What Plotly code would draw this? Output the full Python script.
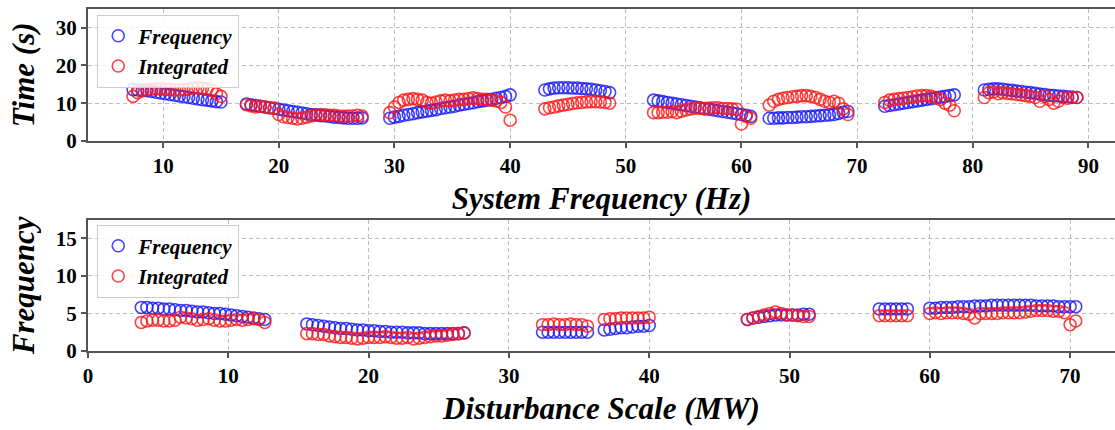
import plotly.graph_objects as go

# ---------------- Top panel: System Frequency (Hz) vs Time (s) ----------------
top_x = [
    [7.4, 7.8, 8.2, 8.6, 9.0, 9.4, 9.8, 10.2, 10.6, 11.0, 11.4, 11.8, 12.2, 12.6, 13.0, 13.4, 13.8, 14.2, 14.6, 15.0],
    [17.2, 17.6, 18.0, 18.4, 18.8, 19.2, 19.6, 20.0, 20.4, 20.8, 21.2, 21.6, 22.0, 22.4, 22.8, 23.2, 23.6, 24.0, 24.4, 24.8, 25.2, 25.6, 26.0, 26.4, 26.8, 27.2],
    [29.6, 30.0, 30.4, 30.8, 31.2, 31.6, 32.0, 32.4, 32.8, 33.2, 33.6, 34.0, 34.4, 34.8, 35.2, 35.6, 36.0, 36.4, 36.8, 37.2, 37.6, 38.0, 38.4, 38.8, 39.2, 39.6, 40.0],
    [43.0, 43.4, 43.8, 44.2, 44.6, 45.0, 45.4, 45.8, 46.2, 46.6, 47.0, 47.4, 47.8, 48.2, 48.6],
    [52.4, 52.8, 53.2, 53.6, 54.0, 54.4, 54.8, 55.2, 55.6, 56.0, 56.4, 56.8, 57.2, 57.6, 58.0, 58.4, 58.8, 59.2, 59.6, 60.0, 60.4, 60.8],
    [62.4, 62.8, 63.2, 63.6, 64.0, 64.4, 64.8, 65.2, 65.6, 66.0, 66.4, 66.8, 67.2, 67.6, 68.0, 68.4, 68.8, 69.2],
    [72.4, 72.8, 73.2, 73.6, 74.0, 74.4, 74.8, 75.2, 75.6, 76.0, 76.4, 76.8, 77.2, 77.6, 78.0, 78.4],
    [81.0, 81.4, 81.8, 82.2, 82.6, 83.0, 83.4, 83.8, 84.2, 84.6, 85.0, 85.4, 85.8, 86.2, 86.6, 87.0, 87.4, 87.8, 88.2, 88.6, 89.0],
]
top_freq = [
    [13.6, 13.5, 13.4, 13.3, 13.1, 12.9, 12.7, 12.5, 12.3, 12.1, 11.9, 11.7, 11.5, 11.3, 11.1, 10.9, 10.8, 10.6, 10.4, 10.3],
    [9.8, 9.6, 9.4, 9.2, 9.0, 8.8, 8.6, 8.4, 8.2, 8.0, 7.8, 7.6, 7.4, 7.2, 7.0, 6.9, 6.7, 6.6, 6.5, 6.3, 6.2, 6.1, 6.0, 6.0, 6.0, 6.1],
    [6.0, 6.3, 6.5, 6.8, 7.0, 7.2, 7.5, 7.7, 7.9, 8.1, 8.3, 8.6, 8.8, 9.0, 9.2, 9.5, 9.7, 9.9, 10.1, 10.4, 10.6, 10.8, 11.0, 11.3, 11.5, 11.8, 12.2],
    [13.5, 13.8, 14.0, 14.1, 14.1, 14.1, 14.0, 14.0, 13.9, 13.8, 13.7, 13.5, 13.3, 13.1, 12.8],
    [10.8, 10.6, 10.4, 10.2, 10.0, 9.8, 9.6, 9.4, 9.2, 9.0, 8.8, 8.6, 8.4, 8.2, 8.0, 7.8, 7.6, 7.4, 7.2, 7.0, 6.8, 6.5],
    [6.0, 6.0, 6.1, 6.1, 6.2, 6.2, 6.3, 6.4, 6.4, 6.5, 6.6, 6.7, 6.8, 6.9, 7.0, 7.3, 7.6, 7.8],
    [9.2, 9.4, 9.6, 9.8, 10.0, 10.2, 10.4, 10.6, 10.8, 11.0, 11.2, 11.4, 11.6, 11.8, 12.0, 12.2],
    [13.5, 13.7, 13.8, 13.8, 13.7, 13.5, 13.4, 13.2, 13.1, 12.9, 12.8, 12.6, 12.4, 12.3, 12.1, 12.0, 11.9, 11.8, 11.7, 11.6, 11.5],
]
top_integ = [
    [11.8, 12.8, 13.3, 13.6, 13.7, 13.8, 13.8, 13.7, 13.6, 13.5, 13.5, 13.6, 13.8, 14.0, 14.1, 14.0, 13.8, 13.4, 12.5, 11.8],
    [9.6, 9.3, 9.0, 9.2, 9.0, 8.8, 8.7, 7.0, 6.4, 6.2, 6.0, 5.8, 6.0, 6.3, 6.6, 6.8, 7.0, 6.9, 6.8, 6.8, 6.6, 6.5, 6.6, 6.6, 6.8, 6.6],
    [7.5, 9.0, 10.2, 10.8, 11.0, 11.2, 11.0, 10.8, 10.2, 10.0, 10.3, 10.6, 10.8, 10.6, 10.8, 11.0, 11.0, 11.2, 11.4, 11.2, 11.0, 11.0, 10.8, 10.6, 10.2, 9.0, 5.5],
    [8.5, 8.8, 9.0, 9.3, 9.5, 9.7, 9.9, 10.1, 10.2, 10.3, 10.4, 10.4, 10.3, 10.2, 10.0],
    [7.5, 7.5, 7.6, 7.6, 7.8, 7.5, 7.9, 8.2, 8.5, 8.7, 8.7, 8.5, 8.7, 8.8, 8.8, 8.6, 8.6, 8.5, 8.4, 4.5, 6.5, 6.0],
    [9.5, 10.5, 11.0, 11.3, 11.5, 11.7, 11.8, 12.0, 12.0, 11.8, 11.5, 11.0, 10.5, 10.2, 10.5, 10.0, 8.5, 7.0],
    [10.2, 10.8, 11.0, 11.2, 11.3, 11.5, 11.7, 11.9, 12.0, 12.0, 11.8, 11.5, 11.0, 10.0, 9.5, 8.0],
    [11.5, 12.8, 13.0, 12.5, 12.8, 12.6, 12.5, 12.3, 12.2, 12.0, 11.8, 11.5, 10.5, 11.8, 11.0, 10.0, 10.5, 11.5, 11.3, 11.5, 11.5],
]

# ---------------- Bottom panel: Disturbance Scale (MW) vs Frequency ----------------
bot_x = [
    [3.8, 4.2, 4.6, 5.0, 5.4, 5.8, 6.2, 6.6, 7.0, 7.4, 7.8, 8.2, 8.6, 9.0, 9.4, 9.8, 10.2, 10.6, 11.0, 11.4, 11.8, 12.2, 12.6],
    [15.6, 16.0, 16.4, 16.8, 17.2, 17.6, 18.0, 18.4, 18.8, 19.2, 19.6, 20.0, 20.4, 20.8, 21.2, 21.6, 22.0, 22.4, 22.8, 23.2, 23.6, 24.0, 24.4, 24.8, 25.2, 25.6, 26.0, 26.4, 26.8],
    [32.4, 32.8, 33.2, 33.6, 34.0, 34.4, 34.8, 35.2, 35.6],
    [36.8, 37.2, 37.6, 38.0, 38.4, 38.8, 39.2, 39.6, 40.0],
    [47.0, 47.4, 47.8, 48.2, 48.6, 49.0, 49.4, 49.8, 50.2, 50.6, 51.0, 51.4],
    [56.4, 56.8, 57.2, 57.6, 58.0, 58.4],
    [60.0, 60.4, 60.8, 61.2, 61.6, 62.0, 62.4, 62.8, 63.2, 63.6, 64.0, 64.4, 64.8, 65.2, 65.6, 66.0, 66.4, 66.8, 67.2, 67.6, 68.0, 68.4, 68.8, 69.2, 69.6, 70.0, 70.4],
]
bot_freq = [
    [5.8, 5.8, 5.7, 5.7, 5.6, 5.6, 5.5, 5.4, 5.4, 5.3, 5.2, 5.2, 5.1, 5.0, 5.0, 4.9, 4.8, 4.7, 4.6, 4.5, 4.4, 4.3, 4.2],
    [3.6, 3.5, 3.4, 3.3, 3.2, 3.1, 3.0, 3.0, 2.9, 2.8, 2.8, 2.7, 2.7, 2.6, 2.6, 2.5, 2.5, 2.5, 2.4, 2.4, 2.4, 2.3, 2.3, 2.3, 2.3, 2.3, 2.3, 2.3, 2.4],
    [2.5, 2.5, 2.5, 2.5, 2.5, 2.5, 2.5, 2.5, 2.5],
    [2.8, 2.9, 3.0, 3.1, 3.1, 3.2, 3.3, 3.3, 3.4],
    [4.2, 4.4, 4.5, 4.6, 4.7, 4.8, 4.8, 4.8, 4.8, 4.8, 4.9, 4.9],
    [5.6, 5.6, 5.6, 5.6, 5.6, 5.6],
    [5.7, 5.7, 5.8, 5.8, 5.8, 5.9, 5.9, 5.9, 6.0, 6.0, 6.0, 6.1, 6.1, 6.1, 6.1, 6.1, 6.1, 6.1, 6.1, 6.0, 6.0, 6.0, 6.0, 5.9, 5.9, 5.9, 5.9],
]
bot_integ = [
    [3.8, 4.0, 4.1, 4.1, 4.0, 4.0, 4.1, 4.5, 4.4, 4.3, 4.1, 4.2, 4.3, 4.1, 4.0, 4.0, 4.1, 4.2, 4.1, 4.2, 4.3, 4.2, 3.8],
    [2.3, 2.3, 2.2, 2.2, 2.0, 1.9, 1.8, 1.8, 1.7, 1.6, 1.7, 1.8, 1.8, 1.8, 1.9, 1.8, 1.7, 1.7, 1.8, 1.6, 1.7, 1.8, 1.9, 2.0, 2.0, 2.1, 2.2, 2.3, 2.4],
    [3.5, 3.5, 3.6, 3.5, 3.5, 3.6, 3.5, 3.5, 3.3],
    [4.2, 4.3, 4.3, 4.4, 4.4, 4.4, 4.4, 4.4, 4.5],
    [4.2, 4.4, 4.6, 4.8, 5.0, 5.2, 5.0, 4.8, 4.8, 4.7, 4.6, 4.6],
    [4.7, 4.7, 4.7, 4.7, 4.7, 4.7],
    [5.0, 5.1, 5.0, 5.1, 5.1, 5.1, 5.0, 4.9, 4.4, 5.0, 5.0, 5.0, 5.0, 5.1, 5.1, 5.1, 5.1, 5.2, 5.3, 5.4, 5.4, 5.4, 5.3, 5.3, 5.1, 3.5, 4.0],
]

series_names = ["Frequency", "Integrated"]
BLUE = "rgba(20,20,255,0.8)"
RED = "rgba(255,20,20,0.8)"
FONT = "Liberation Serif, Times New Roman, serif"


def flat(groups):
    out = []
    for g in groups:
        out.extend(g)
    return out


fig = go.Figure()

marker_common = dict(symbol="circle-open", size=12)

fig.add_trace(go.Scatter(x=flat(top_x), y=flat(top_freq), mode="markers", name=series_names[0],
                         marker=dict(color=BLUE, line=dict(width=1.6, color=BLUE), **marker_common),
                         xaxis="x", yaxis="y", legend="legend"))
fig.add_trace(go.Scatter(x=flat(top_x), y=flat(top_integ), mode="markers", name=series_names[1],
                         marker=dict(color=RED, line=dict(width=1.6, color=RED), **marker_common),
                         xaxis="x", yaxis="y", legend="legend"))
fig.add_trace(go.Scatter(x=flat(bot_x), y=flat(bot_freq), mode="markers", name=series_names[0],
                         marker=dict(color=BLUE, line=dict(width=1.6, color=BLUE), **marker_common),
                         xaxis="x2", yaxis="y2", legend="legend2"))
fig.add_trace(go.Scatter(x=flat(bot_x), y=flat(bot_integ), mode="markers", name=series_names[1],
                         marker=dict(color=RED, line=dict(width=1.6, color=RED), **marker_common),
                         xaxis="x2", yaxis="y2", legend="legend2"))

tick_font = dict(family=FONT, size=21, color="black", weight="bold")
title_font = dict(family=FONT, size=31, color="black", weight="bold", style="italic")
grid = dict(showgrid=True, gridcolor="#bdbdbd", gridwidth=1, griddash="4px,3px")
line = dict(showline=True, linecolor="#555555", linewidth=2, ticks="outside", ticklen=5,
            tickwidth=1.5, tickcolor="#555555", zeroline=False)
legend_font = dict(family=FONT, size=21, color="black", weight="bold", style="italic")

H = 430
fig.update_layout(
    width=1115, height=H,
    margin=dict(l=88, r=0, t=0, b=0),
    paper_bgcolor="white", plot_bgcolor="white",
    font=dict(family=FONT, color="black"),
    xaxis=dict(domain=[0, 1], anchor="y", range=[3.5, 92.3], tickvals=[10, 20, 30, 40, 50, 60, 70, 80, 90],
               tickfont=tick_font, mirror=True,
               title=dict(text="System Frequency (Hz)", font=title_font, standoff=10), **grid, **line),
    yaxis=dict(domain=[(H - 145) / H, (H - 9) / H], anchor="x", range=[0, 35], tickvals=[0, 10, 20, 30],
               tickfont=tick_font, mirror=False,
               title=dict(text="Time (s)", font=title_font, standoff=12), **grid, **line),
    xaxis2=dict(domain=[0, 1], anchor="y2", range=[0, 73.2], tickvals=[0, 10, 20, 30, 40, 50, 60, 70],
                tickfont=tick_font, mirror=True,
                title=dict(text="Disturbance Scale (MW)", font=title_font, standoff=10), **grid, **line),
    yaxis2=dict(domain=[(H - 361) / H, (H - 226) / H], anchor="x2", range=[0, 17.5], tickvals=[0, 5, 10, 15],
                tickfont=tick_font, mirror=False,
                title=dict(text="Frequency", font=title_font, standoff=12), **grid, **line),
    legend=dict(x=0.009, y=(H - 15) / H, xanchor="left", yanchor="top",
                bgcolor="rgba(255,255,255,0.85)", bordercolor="#cccccc", borderwidth=1,
                font=legend_font, itemwidth=30, tracegroupgap=0),
    legend2=dict(x=0.009, y=(H - 231) / H, xanchor="left", yanchor="top",
                 bgcolor="rgba(255,255,255,0.85)", bordercolor="#cccccc", borderwidth=1,
                 font=legend_font, itemwidth=30, tracegroupgap=0),
)

fig.write_html("out.html")
